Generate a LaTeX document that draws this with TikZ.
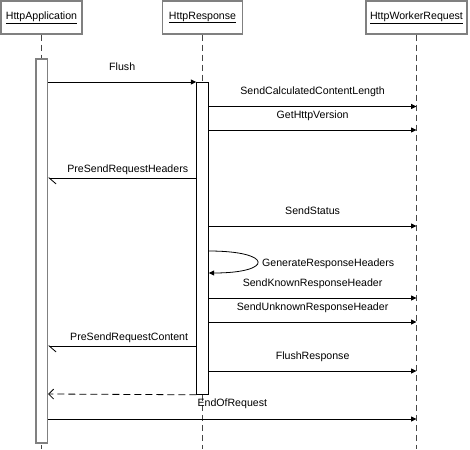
\documentclass[tikz,border=0pt]{standalone}
\usepackage{fontspec}
\setmainfont{Liberation Sans}
\usepackage{tikz}
\usetikzlibrary{arrows.meta,positioning,calc}
\definecolor{headgray}{RGB}{128,128,128}
\definecolor{lifegray}{RGB}{70,70,70}
\newcommand{\seqfont}{\fontsize{10.6pt}{12pt}\selectfont}

\tikzset{
  head/.style={draw=headgray,line width=1.5pt,fill=white,minimum height=33pt,inner sep=0pt},
  lifeline/.style={draw=lifegray,line width=1.1pt,dash pattern=on 6pt off 4pt},
  actbar/.style={draw,fill=white,minimum width=11.6pt,inner sep=0pt,anchor=north},
  call/.style={draw,line width=0.8pt,-{Triangle[length=5.5pt,width=5pt]}},
  reply/.style={draw,line width=0.8pt,-{Straight Barb[harpoon,length=7pt,width=12pt]}},
  back/.style={draw,line width=0.8pt,dash pattern=on 7pt off 4pt,-{Straight Barb[length=5pt,width=10pt]}},
  msglbl/.style={inner sep=0pt,anchor=base}
}

\begin{document}
\begin{tikzpicture}[x=1pt,y=-1pt,font=\seqfont]
\useasboundingbox (0,0) rectangle (470,449);

% objects
\node[head,minimum width=81pt] (app) at (41.5,17.5) {\underline{HttpApplication}};
\node[head,minimum width=80pt] (resp) at (202.5,17.5) {\underline{HttpResponse}};
\node[head,minimum width=101pt] (wrk) at (416.5,17.5) {\underline{HttpWorkerRequest}};

% lifelines
\foreach \o in {app,resp,wrk}
  \draw[lifeline] (\o.south) -- (\o.south |- 0,449);

% activations
\node[actbar,draw=headgray,line width=1.6pt,minimum height=384pt] (appact) at (app.south |- 0,58) {};
\node[actbar,line width=0.8pt,minimum height=312pt] (respact) at (resp.south |- 0,82) {};

% HttpApplication -> HttpResponse
\coordinate (fs) at (appact.east |- 0,82);
\draw[call] (fs) -- node[msglbl,yshift=11pt] {Flush} (respact.north west);

% HttpResponse -> HttpWorkerRequest
\foreach \y/\lbl [count=\i] in {106.5/SendCalculatedContentLength,130/GetHttpVersion,
    226/SendStatus,298/SendKnownResponseHeader,322/SendUnknownResponseHeader,371/FlushResponse}{
  \coordinate (ws\i) at (respact.east |- 0,\y);
  \coordinate (wt\i) at (wrk.south |- 0,\y);
  \draw[call] (ws\i) -- node[msglbl,yshift=11.5pt] {\lbl} (wt\i);
}

% events back to HttpApplication
\foreach \y/\lbl [count=\i] in {178/PreSendRequestHeaders,346/PreSendRequestContent}{
  \coordinate (rs\i) at (respact.west |- 0,\y);
  \coordinate (rt\i) at (appact.east |- 0,\y);
  \draw[reply] (rs\i) -- (rt\i);
  \node[msglbl,anchor=base east] (rl\i) at ($(rs\i)+(-8,-5.5)$) {\lbl};
}

% self call
\coordinate (gs) at (respact.east |- 0,251);
\coordinate (ge) at (respact.east |- 0,273);
\draw[call] (gs) .. controls +(65,0) and +(65,0) .. (ge);
\node[msglbl,anchor=base west] (gl) at (262,266) {GenerateResponseHeaders};

% return
\coordinate (bt) at (appact.east |- 0,394);
\draw[back] (respact.south west) -- (bt);

\coordinate (es) at (appact.east |- 0,419);
\coordinate (et) at (wrk.south |- 0,419);
\draw[call] (es) -- node[msglbl,yshift=13pt] {EndOfRequest} (et);
\end{tikzpicture}
\end{document}
